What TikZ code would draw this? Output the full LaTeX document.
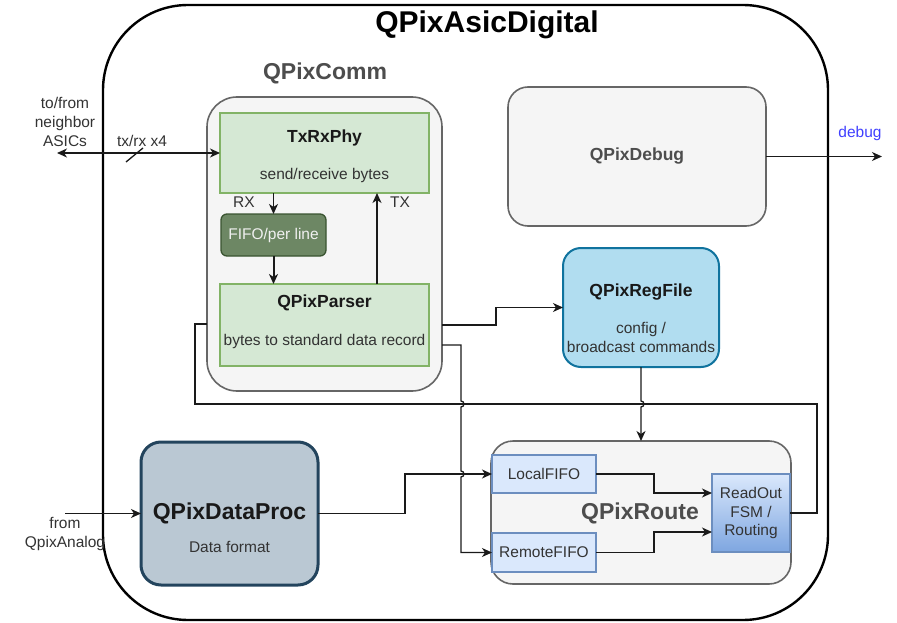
\documentclass[tikz,border=0pt]{standalone}
\usepackage{fontspec}
\setmainfont{Liberation Sans}
\usetikzlibrary{arrows.meta,calc}
\definecolor{tc}{HTML}{333333}
\definecolor{hc}{HTML}{4D4D4D}
\definecolor{gstroke}{HTML}{666666}
\definecolor{gfill}{HTML}{F5F5F5}
\definecolor{grfill}{HTML}{D5E8D4}
\definecolor{grstroke}{HTML}{82B366}
\definecolor{dgfill}{HTML}{6D8764}
\definecolor{dgstroke}{HTML}{3A5431}
\definecolor{bfill}{HTML}{B1DDF0}
\definecolor{bstroke}{HTML}{10739E}
\definecolor{lbfill}{HTML}{DAE8FC}
\definecolor{lbstroke}{HTML}{6C8EBF}
\definecolor{gbbot}{HTML}{7EA6E0}
\definecolor{dpfill}{HTML}{BAC8D3}
\definecolor{dpstroke}{HTML}{23445D}
\definecolor{dbg}{HTML}{4040FF}
\definecolor{lc}{HTML}{1A1A1A}
\tikzset{
  every node/.style={inner sep=0pt, outer sep=0pt},
  txt/.style={font=\fontsize{15.5}{19}\selectfont, text=tc, align=center},
  btxt/.style={font=\fontsize{17.5}{21}\selectfont\bfseries, text=black!90, align=center},
  bigtxt/.style={font=\fontsize{23}{27}\selectfont\bfseries, text=hc, align=center},
  outerframe/.style={draw=black, line width=2.4pt, rounded corners=85pt},
  container/.style={draw=gstroke, fill=gfill, line width=1.6pt},
  greenbox/.style={draw=grstroke, fill=grfill, line width=1.3pt},
  fifobox/.style={draw=dgstroke, fill=dgfill, line width=1.3pt, rounded corners=6pt,
     font=\fontsize{15.5}{19}\selectfont, text=white!88!gray},
  bluebox/.style={draw=lbstroke, fill=lbfill, line width=1.3pt,
     font=\fontsize{15.5}{19}\selectfont, text=tc, align=center},
  conn/.style={draw=lc, line width=1.3pt},
  arr/.style={conn, -{Stealth[length=10pt,width=9pt,inset=3pt]}},
  darr/.style={conn, {Stealth[length=10pt,width=9pt,inset=3pt]}-{Stealth[length=10pt,width=9pt,inset=3pt]}}
}
\begin{document}
\begin{tikzpicture}[x=1pt,y=-1pt]
\useasboundingbox (0,0) rectangle (897,623);

% outer frame
\node[outerframe, minimum width=725pt, minimum height=615pt] (frame) at (465.5,312.5) {};
\node[font=\fontsize{30}{36}\selectfont\bfseries, text=black] (title) at (487,25) {QPixAsicDigital};

% QPixComm
\node[container, rounded corners=30pt, minimum width=235pt, minimum height=294pt] (comm) at (324.5,244) {};
\node[bigtxt] (commlbl) at (325,73) {QPixComm};
\node[greenbox, minimum width=209pt, minimum height=80pt] (txrx) at (324.5,153) {};
\node[btxt] (txrxt) at (324.5,138) {TxRxPhy};
\node[txt] (txrxs) at (324.5,175) {send/receive bytes};
\node[fifobox, minimum width=105pt, minimum height=42pt] (fifo) at (273.5,235) {FIFO/per line};
\node[greenbox, minimum width=209pt, minimum height=82pt] (parser) at (324.5,325) {};
\node[btxt] (parsert) at (324.5,303) {QPixParser};
\node[txt] (parsers) at (324.5,341) {bytes to standard data record};
\node[txt] (rxl) at (244,202) {RX};
\node[txt] (txl) at (400,202) {TX};
\coordinate (txx) at (377,0);

% QPixDebug
\node[container, rounded corners=20pt, minimum width=258pt, minimum height=139pt] (debug) at (637,156.5) {};
\node[btxt, text=hc] (debugt) at (637,156) {QPixDebug};
\node[txt, text=dbg] (debugl) at (860,133) {debug};

% QPixRegFile
\node[draw=bstroke, fill=bfill, line width=2pt, rounded corners=18pt, minimum width=156pt, minimum height=119pt] (regfile) at (641,307.5) {};
\node[btxt] (regt) at (641,292) {QPixRegFile};
\node[txt] (regs) at (641,337.5) {config /\\broadcast commands};

% QPixRoute
\node[container, rounded corners=22pt, minimum width=300pt, minimum height=143pt] (route) at (641,512.5) {};
\node[bigtxt] (routet) at (640,513) {QPixRoute};
\node[bluebox, minimum width=104pt, minimum height=38pt] (local) at (544,474) {LocalFIFO};
\node[bluebox, minimum width=104pt, minimum height=39pt] (remote) at (544,552.5) {RemoteFIFO};
\node[draw=lbstroke, top color=lbfill, bottom color=gbbot, line width=1.3pt, minimum width=78pt, minimum height=78pt,
      font=\fontsize{15.5}{18.5}\selectfont, text=tc, align=center] (readout) at (751,513) {ReadOut\\FSM /\\Routing};

% QPixDataProc
\node[draw=dpstroke, fill=dpfill, line width=3pt, rounded corners=20pt, minimum width=177pt, minimum height=143pt] (dataproc) at (229.5,513.5) {};
\node[font=\fontsize{23}{27}\selectfont\bfseries, text=black!90] (dpt) at (229.5,513) {QPixDataProc};
\node[txt] (dps) at (229.5,547) {Data format};

% external labels
\node[txt] (nbrl) at (65,122) {to/from\\neighbor\\ASICs};
\node[txt] (txrxl) at (142,141) {tx/rx x4};
\node[txt] (anal) at (65,534) {from\\QpixAnalog};
\coordinate (nbr) at (57,153);
\coordinate (ana) at (65,513.5);
\coordinate (sl1) at (126,162);
\coordinate (sl2) at (143,148);

% connectors
\draw[darr] (nbr) -- (txrx.west);
\draw[conn] (sl1) -- (sl2);
\draw[arr] (ana) -- (dataproc.west);
\draw[arr] (txrx.south -| fifo.north) -- (fifo.north);
\draw[arr, line width=2pt] (fifo.south) -- (parser.north -| fifo.south);
\draw[arr] (parser.north -| txx) -- (txrx.south -| txx);
\draw[arr] (debug.east) -- ++(116,0);
\draw[arr] ([yshift=-81pt]comm.east) -- ++(54,0) |- (regfile.west);
\draw[conn] ([yshift=-80pt]comm.west) -- ++(-12,0) -- (195,404) -- (817,404) |- (readout.east);
\draw[arr] ([yshift=-101pt]comm.east) -- (461,345) -- (461,401)
   arc[start angle=90, end angle=-90, radius=3pt] -- (461,471)
   arc[start angle=90, end angle=-90, radius=3pt] |- (remote.west);
\draw[arr] (dataproc.east) -- ++(87,0) |- (local.west);
\draw[arr] (regfile.south) -- (641,401)
   arc[start angle=90, end angle=-90, radius=3pt] -- (route.north);
\draw[arr] (local.east) -- ++(58,0) |- ([yshift=20pt]readout.west);
\draw[arr] (remote.east) -- ++(58,0) |- ([yshift=-19pt]readout.west);
\end{tikzpicture}
\end{document}
